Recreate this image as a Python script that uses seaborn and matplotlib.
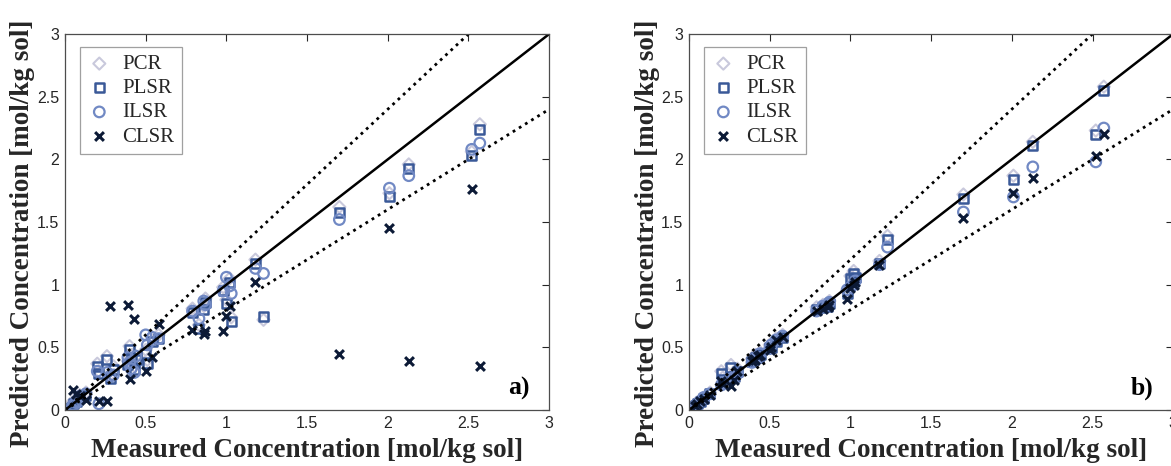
import matplotlib
matplotlib.use("Agg")
import matplotlib.pyplot as plt
import numpy as np
import seaborn as sns


# =========================================================
# DATA
# =========================================================

measured = [0.04, 0.05, 0.07, 0.09, 0.13, 0.20, 0.21, 0.26, 0.28, 0.30,
            0.39, 0.40, 0.41, 0.43, 0.44, 0.50, 0.51, 0.54, 0.58, 0.79,
            0.83, 0.86, 0.87, 0.98, 1.00, 1.02, 1.03, 1.18, 1.23, 1.70,
            2.01, 2.13, 2.52, 2.57]

# panel a)
pcr_a = [0.04, 0.07, 0.08, 0.12, 0.14, 0.37, 0.31, 0.43, 0.28, 0.35,
         0.39, 0.51, 0.44, 0.35, 0.43, 0.48, 0.40, 0.58, 0.60, 0.81,
         0.68, 0.83, 0.89, 0.98, 0.88, 1.05, 0.74, 1.20, 0.72, 1.62,
         1.73, 1.96, 2.06, 2.28]
plsr_a = [0.02, 0.05, 0.07, 0.10, 0.12, 0.35, 0.29, 0.40, 0.25, 0.32,
          0.36, 0.48, 0.41, 0.32, 0.40, 0.45, 0.37, 0.55, 0.57, 0.78,
          0.65, 0.80, 0.86, 0.95, 0.85, 1.02, 0.71, 1.17, 0.75, 1.58,
          1.70, 1.93, 2.03, 2.24]
ilsr_a = [0.01, 0.04, 0.06, 0.11, 0.13, 0.31, 0.05, 0.30, 0.27, 0.28,
          0.42, 0.38, 0.33, 0.30, 0.43, 0.60, 0.52, 0.58, 0.57, 0.79,
          0.73, 0.87, 0.84, 0.95, 1.06, 0.99, 0.93, 1.13, 1.09, 1.52,
          1.77, 1.87, 2.08, 2.13]
clsr_a = [np.nan, 0.16, 0.13, 0.11, 0.08, np.nan, 0.07, 0.07, 0.83, np.nan,
          0.84, 0.25, np.nan, 0.73, np.nan, 0.31, np.nan, 0.42, 0.69, 0.64,
          np.nan, 0.61, 0.63, 0.63, 0.75, 0.83, np.nan, 1.02, np.nan, 0.45,
          1.45, 0.39, 1.76, 0.35]

# panel b)
pcr_b = [0.05, 0.06, 0.08, 0.10, 0.14, 0.31, 0.26, 0.36, 0.29, 0.33,
         0.41, 0.42, 0.44, 0.44, 0.46, 0.52, 0.52, 0.57, 0.60, 0.82,
         0.84, 0.85, 0.87, 0.95, 1.07, 1.11, 1.08, 1.19, 1.39, 1.72,
         1.87, 2.14, 2.23, 2.58]
plsr_b = [0.04, 0.05, 0.07, 0.09, 0.13, 0.29, 0.24, 0.34, 0.27, 0.31,
          0.39, 0.40, 0.42, 0.42, 0.44, 0.50, 0.50, 0.55, 0.58, 0.80,
          0.82, 0.83, 0.85, 0.93, 1.05, 1.09, 1.06, 1.17, 1.36, 1.69,
          1.84, 2.11, 2.20, 2.55]
ilsr_b = [0.03, 0.05, 0.07, 0.10, 0.13, 0.20, 0.22, 0.25, 0.26, 0.29,
          0.38, 0.40, 0.41, 0.42, 0.45, 0.49, 0.52, 0.56, 0.59, 0.79,
          0.83, 0.84, 0.86, 0.96, 0.98, 1.00, 1.03, 1.16, 1.30, 1.58,
          1.70, 1.94, 1.98, 2.25]
clsr_b = [0.03, 0.05, 0.07, 0.09, 0.12, 0.23, 0.21, 0.19, 0.24, 0.31,
          0.39, 0.41, 0.40, 0.43, 0.44, 0.48, 0.50, 0.56, 0.58, 0.79,
          0.81, 0.82, 0.84, 0.89, 0.97, 1.00, 1.02, 1.16, np.nan, 1.53,
          1.73, 1.85, 2.03, 2.20]

methods = ["PCR", "PLSR", "ILSR", "CLSR"]
ticks = [0, 0.5, 1, 1.5, 2, 2.5, 3]
tick_labels = ["0", "0.5", "1", "1.5", "2", "2.5", "3"]
ref_x = [0, 3]
band = 0.2  # +/- 20 % dotted lines


# =========================================================
# STYLE
# =========================================================

sns.set_style("white")
plt.rcParams["font.family"] = ["Liberation Sans", "DejaVu Sans"]

serif = ["Liberation Serif", "DejaVu Serif"]

styles = {
    "PCR": dict(marker="D", s=38, fc="none", ec="#c9c9dc", lw=1.5),
    "PLSR": dict(marker="s", s=42, fc="none", ec="#3a5998", lw=1.8),
    "ILSR": dict(marker="o", s=58, fc="none", ec="#7189c4", lw=1.6),
    "CLSR": dict(marker="x", s=40, color="#0c1a36", lw=2.2),
}


def draw_panel(ax, series, tag):
    # reference lines
    xs = np.array(ref_x, dtype=float)
    sns.lineplot(x=xs, y=xs, color="black", lw=1.8, ax=ax)
    sns.lineplot(x=xs, y=xs * (1 + band), color="black", lw=2.0,
                 linestyle=(0, (1, 1.6)), ax=ax)
    sns.lineplot(x=xs, y=xs * (1 - band), color="black", lw=2.0,
                 linestyle=(0, (1, 1.6)), ax=ax)

    for name, vals in zip(methods, series):
        sns.scatterplot(x=measured, y=vals, label=name, ax=ax,
                        **styles[name])

    ax.set_xlim(0, 3)
    ax.set_ylim(0, 3)
    ax.set_xticks(ticks)
    ax.set_yticks(ticks)
    ax.set_xticklabels(tick_labels)
    ax.set_yticklabels(tick_labels)
    ax.tick_params(direction="in", length=5, width=0.8, top=True,
                   right=True, labelsize=11.5, colors="#262626", pad=4)
    for sp in ax.spines.values():
        sp.set_visible(True)
        sp.set_color("#4d4d4d")
        sp.set_linewidth(0.9)

    ax.set_xlabel("")
    ax.set_ylabel("")

    ax.text(2.88, 0.17, tag, ha="right", va="center", fontsize=18.5,
            fontweight="bold", family=serif, color="black")

    leg = ax.legend(loc="upper left", bbox_to_anchor=(0.03, 0.965),
                    prop={"family": serif, "size": 15}, frameon=True,
                    fancybox=False, borderpad=0.35, labelspacing=0.22,
                    handletextpad=0.5, handlelength=1.2, borderaxespad=0)
    leg.get_frame().set_edgecolor("#888888")
    leg.get_frame().set_linewidth(0.9)


fig = plt.figure(figsize=(11.71, 4.66), dpi=100)

ax_a = fig.add_axes([0.0555, 0.120, 0.4135, 0.807])
ax_b = fig.add_axes([0.5884, 0.120, 0.4135, 0.807])

draw_panel(ax_a, [pcr_a, plsr_a, ilsr_a, clsr_a], "a)")
draw_panel(ax_b, [pcr_b, plsr_b, ilsr_b, clsr_b], "b)")

label_font = dict(fontsize=19.5, fontweight="bold", family=serif)

fig.text(0.262, 0.033, "Measured Concentration [mol/kg sol]",
         ha="center", va="center", **label_font)
fig.text(0.795, 0.033, "Measured Concentration [mol/kg sol]",
         ha="center", va="center", **label_font)
fig.text(0.019, 0.50, "Predicted Concentration [mol/kg sol]",
         ha="center", va="center", rotation=90, **label_font)
fig.text(0.553, 0.50, "Predicted Concentration [mol/kg sol]",
         ha="center", va="center", rotation=90, **label_font)

fig.savefig("out.png", dpi=100)
